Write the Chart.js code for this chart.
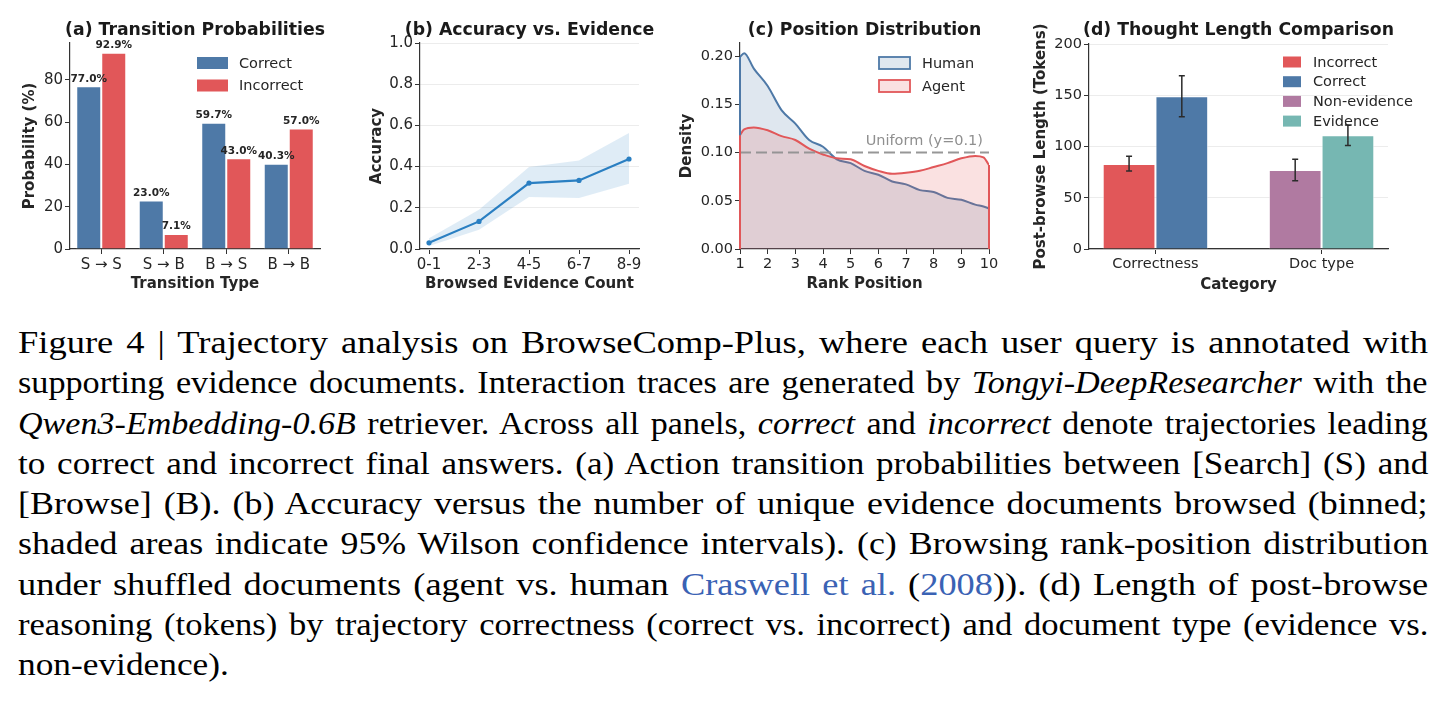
<!DOCTYPE html>
<html>
<head>
<meta charset="utf-8">
<script src="https://cdn.jsdelivr.net/npm/chart.js@4.4.1/dist/chart.umd.min.js"></script>
<style>
  html, body { margin: 0; padding: 0; background: #fff; }
  body { width: 1450px; height: 702px; position: relative; overflow: hidden; }
  canvas { position: absolute; top: 0; }
  .caption {
    position: absolute; left: 18px; top: 322px; width: 1410px;
    font-family: 'Liberation Serif', serif; font-size: 32px; line-height: 40.3px; color: #000;
  }
  .caption .line { white-space: nowrap; }
  .caption .line span.t { display: inline-block; transform-origin: 0 50%; }
  .cite { color: #3a62b4; }
</style>
</head>
<body>
<canvas id="chartA" width="340" height="300" style="left:0px"></canvas>
<canvas id="chartB" width="305" height="300" style="left:350px"></canvas>
<canvas id="chartC" width="345" height="300" style="left:660px"></canvas>
<canvas id="chartD" width="440" height="300" style="left:1010px"></canvas>

<div class="caption">
  <div class="line"><span class="t">Figure 4 | Trajectory analysis on BrowseComp-Plus, where each user query is annotated with</span></div>
  <div class="line"><span class="t">supporting evidence documents. Interaction traces are generated by <i>Tongyi-DeepResearcher</i> with the</span></div>
  <div class="line"><span class="t"><i>Qwen3-Embedding-0.6B</i> retriever. Across all panels, <i>correct</i> and <i>incorrect</i> denote trajectories leading</span></div>
  <div class="line"><span class="t">to correct and incorrect final answers. (a) Action transition probabilities between [Search] (S) and</span></div>
  <div class="line"><span class="t">[Browse] (B). (b) Accuracy versus the number of unique evidence documents browsed (binned;</span></div>
  <div class="line"><span class="t">shaded areas indicate 95% Wilson confidence intervals). (c) Browsing rank-position distribution</span></div>
  <div class="line"><span class="t">under shuffled documents (agent vs. human <span class="cite">Craswell et al.</span> (<span class="cite">2008</span>)). (d) Length of post-browse</span></div>
  <div class="line"><span class="t">reasoning (tokens) by trajectory correctness (correct vs. incorrect) and document type (evidence vs.</span></div>
  <div class="line last"><span class="t">non-evidence).</span></div>
</div>

<script>
// (a) transition probabilities
const transitionTypes = ["S → S", "S → B", "B → S", "B → B"];
const transCorrect = [77.0, 23.0, 59.7, 40.3];
const transIncorrect = [92.9, 7.1, 43.0, 57.0];

// (b) accuracy vs. evidence count, with 95% Wilson intervals
const evidenceBins = ["0-1", "2-3", "4-5", "6-7", "8-9"];
const accuracy = [0.03, 0.134, 0.32, 0.333, 0.437];
const accuracyLow = [0.015, 0.094, 0.252, 0.248, 0.317];
const accuracyHigh = [0.052, 0.19, 0.398, 0.43, 0.563];

// (c) rank position density
const rankPositions = [1, 1.15, 1.5, 2, 2.5, 3, 3.5, 4, 4.5, 5, 5.5, 6, 6.5, 7, 7.5, 8, 8.5, 9, 9.5, 9.8, 10];
const humanDensity = [0.199, 0.203, 0.187, 0.169, 0.144, 0.130, 0.113, 0.106, 0.093, 0.089, 0.081, 0.077, 0.070, 0.067, 0.061, 0.059, 0.053, 0.051, 0.046, 0.044, 0.042];
const agentDensity = [0.118, 0.124, 0.126, 0.123, 0.117, 0.113, 0.104, 0.098, 0.094, 0.093, 0.086, 0.081, 0.078, 0.079, 0.081, 0.085, 0.089, 0.094, 0.0965, 0.095, 0.087];
const uniformDensity = 0.1;

// (d) post-browse thought length
const lengthCategories = ["Correctness", "Doc type"];
const lengthLeftLabels = ["Incorrect", "Non-evidence"];
const lengthLeft = [83, 77];
const lengthLeftLow = [76, 66.5];
const lengthLeftHigh = [90.5, 87.5];
const lengthRightLabels = ["Correct", "Evidence"];
const lengthRight = [149, 111];
const lengthRightLow = [129, 101];
const lengthRightHigh = [169, 121];

const BLUE = "#4e79a7";
const RED = "#e15759";
const PURPLE = "#b07aa1";
const TEAL = "#76b7b2";
const LINE_BLUE = "#2a7fc2";
const AXIS = "#333333";
const TEXT = "#262626";
const FONT = "'DejaVu Sans', sans-serif";

Chart.defaults.font.family = FONT;
Chart.defaults.color = TEXT;
Chart.defaults.animation = false;
Chart.defaults.plugins.legend.display = false;
Chart.defaults.plugins.tooltip.enabled = false;
Chart.defaults.plugins.title.display = false;

// panel title centred over the plot area (drawn without a width limit)
function panelTitle(text) {
  return {
    id: "panelTitle",
    afterDraw(chart) {
      const ctx = chart.ctx;
      const area = chart.chartArea;
      ctx.save();
      ctx.font = "bold 17.3px " + FONT;
      ctx.fillStyle = "#1a1a1a";
      ctx.textAlign = "center";
      ctx.textBaseline = "middle";
      ctx.fillText(text, (area.left + area.right) / 2, 31);
      ctx.restore();
    },
  };
}

function axisTitle(text, padding) {
  return {
    display: true,
    text: text,
    color: TEXT,
    font: { family: FONT, size: 15, weight: "bold", lineHeight: 1.2 },
    padding: padding,
  };
}

function gridOpts(showLines) {
  return {
    drawOnChartArea: showLines,
    color: "#ececec",
    lineWidth: 1,
    tickLength: 5,
    tickColor: AXIS,
    tickWidth: 1,
    offset: false,
  };
}

const border = { color: AXIS, width: 1.2 };

// small legend drawn at fixed spots inside each panel
function makeLegend(cfg) {
  return {
    id: "boxLegend",
    afterDraw(chart) {
      const ctx = chart.ctx;
      ctx.save();
      ctx.font = "14.5px " + FONT;
      ctx.textBaseline = "middle";
      cfg.items.forEach(function (it, i) {
        const cy = cfg.y + i * cfg.step;
        ctx.fillStyle = it.fill;
        ctx.fillRect(cfg.x, cy - cfg.boxH / 2, cfg.boxW, cfg.boxH);
        if (it.stroke) {
          ctx.strokeStyle = it.stroke;
          ctx.lineWidth = 1.8;
          ctx.strokeRect(cfg.x, cy - cfg.boxH / 2, cfg.boxW, cfg.boxH);
        }
        ctx.fillStyle = TEXT;
        ctx.fillText(it.text, cfg.textX, cy + 1);
      });
      ctx.restore();
    },
  };
}

const barValueLabels = {
  id: "barValueLabels",
  afterDatasetsDraw(chart) {
    const ctx = chart.ctx;
    ctx.save();
    ctx.font = "bold 10.5px " + FONT;
    ctx.fillStyle = TEXT;
    ctx.textAlign = "center";
    ctx.textBaseline = "bottom";
    chart.data.datasets.forEach(function (ds, di) {
      chart.getDatasetMeta(di).data.forEach(function (bar, i) {
        ctx.fillText(ds.data[i].toFixed(1) + "%", bar.x, bar.y - 2);
      });
    });
    ctx.restore();
  },
};

// ---------- (a) ----------
new Chart(document.getElementById("chartA"), {
  type: "bar",
  data: {
    labels: transitionTypes,
    datasets: [
      { label: "Correct", data: transCorrect, backgroundColor: BLUE, borderColor: "rgba(255,255,255,0.6)", borderWidth: 1 },
      { label: "Incorrect", data: transIncorrect, backgroundColor: RED, borderColor: "rgba(255,255,255,0.6)", borderWidth: 1 },
    ],
  },
  options: {
    responsive: false,
    devicePixelRatio: 1,
    layout: { padding: { top: 43, right: 20 } },
    datasets: { bar: { categoryPercentage: 0.8, barPercentage: 1 } },
    scales: {
      x: {
        grid: gridOpts(false),
        border: border,
        ticks: { font: { size: 15 }, padding: 2, maxRotation: 0, color: TEXT },
        title: axisTitle("Transition Type", { top: 0, bottom: 6.5 }),
        afterFit: function (s) { s.height = 51; },
      },
      y: {
        min: 0,
        max: 97.5,
        grid: gridOpts(false),
        border: border,
        ticks: { stepSize: 20, includeBounds: false, font: { size: 15 }, padding: 2, color: TEXT },
        title: axisTitle("Probability (%)", { top: 21, bottom: 0 }),
        afterFit: function (s) { s.width = 70; },
      },
    },
  },
  plugins: [
    panelTitle("(a) Transition Probabilities"),
    barValueLabels,
    makeLegend({
      x: 197, y: 63, step: 22.5, boxW: 31, boxH: 12, textX: 239,
      items: [
        { text: "Correct", fill: BLUE },
        { text: "Incorrect", fill: RED },
      ],
    }),
  ],
});

// ---------- (b) ----------
function pts(xs, ys) {
  return ys.map(function (v, i) { return { x: xs[i], y: v }; });
}
const binIdx = evidenceBins.map(function (_, i) { return i; });

new Chart(document.getElementById("chartB"), {
  type: "line",
  data: {
    datasets: [
      {
        label: "Accuracy",
        data: pts(binIdx, accuracy),
        borderColor: LINE_BLUE,
        borderWidth: 2.2,
        pointRadius: 2.6,
        pointBackgroundColor: LINE_BLUE,
        pointBorderWidth: 0,
        fill: false,
      },
      {
        label: "CI high",
        data: pts(binIdx, accuracyHigh),
        borderWidth: 0,
        pointRadius: 0,
        backgroundColor: "rgba(42,127,194,0.15)",
        fill: 2,
      },
      {
        label: "CI low",
        data: pts(binIdx, accuracyLow),
        borderWidth: 0,
        pointRadius: 0,
        fill: false,
      },
    ],
  },
  options: {
    responsive: false,
    devicePixelRatio: 1,
    layout: { padding: { top: 43, right: 16 } },
    scales: {
      x: {
        type: "linear",
        min: -0.18,
        max: 4.2,
        grid: gridOpts(false),
        border: border,
        ticks: {
          stepSize: 1,
          includeBounds: false,
          font: { size: 15 },
          padding: 2,
          maxRotation: 0,
          color: TEXT,
          callback: function (v) { return evidenceBins[v] !== undefined ? evidenceBins[v] : ""; },
        },
        title: axisTitle("Browsed Evidence Count", { top: 0, bottom: 6.5 }),
        afterFit: function (s) { s.height = 51; },
      },
      y: {
        min: 0,
        max: 1,
        grid: gridOpts(true),
        border: border,
        ticks: {
          stepSize: 0.2,
          font: { size: 15 },
          padding: 2,
          color: TEXT,
          callback: function (v) { return v.toFixed(1); },
        },
        title: axisTitle("Accuracy", { top: 18, bottom: 0 }),
        afterFit: function (s) { s.width = 70; },
      },
    },
  },
  plugins: [panelTitle("(b) Accuracy vs. Evidence")],
});

// ---------- (c) ----------
const kdeEdges = {
  id: "kdeEdges",
  afterDatasetsDraw(chart) {
    const ctx = chart.ctx;
    const y0 = chart.scales.y.getPixelForValue(0);
    ctx.save();
    ctx.lineWidth = 2;
    [1, 0].forEach(function (di) {
      const meta = chart.getDatasetMeta(di);
      const ds = chart.data.datasets[di];
      const first = meta.data[0];
      const last = meta.data[meta.data.length - 1];
      ctx.strokeStyle = ds.borderColor;
      ctx.beginPath();
      ctx.moveTo(first.x, first.y);
      ctx.lineTo(first.x, y0);
      ctx.moveTo(last.x, last.y);
      ctx.lineTo(last.x, y0);
      ctx.stroke();
    });
    // uniform label
    ctx.font = "14.5px " + FONT;
    ctx.fillStyle = "#8f8f8f";
    ctx.textAlign = "right";
    ctx.textBaseline = "alphabetic";
    ctx.fillText("Uniform (y=" + uniformDensity + ")", chart.chartArea.right - 6,
      chart.scales.y.getPixelForValue(uniformDensity) - 8);
    ctx.restore();
  },
};

new Chart(document.getElementById("chartC"), {
  type: "line",
  data: {
    datasets: [
      {
        label: "Agent",
        data: pts(rankPositions, agentDensity),
        borderColor: RED,
        borderWidth: 2,
        backgroundColor: "rgba(225,87,89,0.18)",
        pointRadius: 0,
        fill: "origin",
        cubicInterpolationMode: "monotone",
      },
      {
        label: "Human",
        data: pts(rankPositions, humanDensity),
        borderColor: BLUE,
        borderWidth: 2,
        backgroundColor: "rgba(78,121,167,0.18)",
        pointRadius: 0,
        fill: "origin",
        cubicInterpolationMode: "monotone",
      },
      {
        label: "Uniform",
        data: [
          { x: rankPositions[0], y: uniformDensity },
          { x: rankPositions[rankPositions.length - 1], y: uniformDensity },
        ],
        borderColor: "rgba(145,145,145,0.95)",
        borderWidth: 2.2,
        borderDash: [11, 5],
        pointRadius: 0,
        fill: false,
        order: -1,
      },
    ],
  },
  options: {
    responsive: false,
    devicePixelRatio: 1,
    layout: { padding: { top: 43, right: 16 } },
    scales: {
      x: {
        type: "linear",
        min: 1,
        max: 10,
        grid: gridOpts(false),
        border: border,
        ticks: { stepSize: 1, font: { size: 14.5 }, padding: 2, maxRotation: 0, color: TEXT },
        title: axisTitle("Rank Position", { top: 0, bottom: 6.5 }),
        afterFit: function (s) { s.height = 51; },
      },
      y: {
        min: 0,
        max: 0.2135,
        grid: gridOpts(false),
        border: border,
        ticks: {
          stepSize: 0.05,
          includeBounds: false,
          font: { size: 14.5 },
          padding: 2,
          color: TEXT,
          callback: function (v) { return v.toFixed(2); },
        },
        title: axisTitle("Density", { top: 18, bottom: 0 }),
        afterFit: function (s) { s.width = 80; },
      },
    },
  },
  plugins: [
    panelTitle("(c) Position Distribution"),
    kdeEdges,
    makeLegend({
      x: 219, y: 63, step: 23, boxW: 31, boxH: 12, textX: 262,
      items: [
        { text: "Human", fill: "rgba(78,121,167,0.18)", stroke: BLUE },
        { text: "Agent", fill: "rgba(225,87,89,0.18)", stroke: RED },
      ],
    }),
  ],
});

// ---------- (d) ----------
const lengthLow = [lengthLeftLow, lengthRightLow];
const lengthHigh = [lengthLeftHigh, lengthRightHigh];

const errorBars = {
  id: "errorBars",
  afterDatasetsDraw(chart) {
    const ctx = chart.ctx;
    const y = chart.scales.y;
    ctx.save();
    ctx.strokeStyle = "#2b2b2b";
    ctx.lineWidth = 1.5;
    [0, 1].forEach(function (di) {
      chart.getDatasetMeta(di).data.forEach(function (bar, i) {
        const yl = y.getPixelForValue(lengthLow[di][i]);
        const yh = y.getPixelForValue(lengthHigh[di][i]);
        ctx.beginPath();
        ctx.moveTo(bar.x, yl);
        ctx.lineTo(bar.x, yh);
        ctx.moveTo(bar.x - 3, yl);
        ctx.lineTo(bar.x + 3, yl);
        ctx.moveTo(bar.x - 3, yh);
        ctx.lineTo(bar.x + 3, yh);
        ctx.stroke();
      });
    });
    ctx.restore();
  },
};

// the long y title would be squeezed to the axis height by Chart.js, so draw it here
const lengthYTitle = {
  id: "lengthYTitle",
  afterDraw(chart) {
    const ctx = chart.ctx;
    const area = chart.chartArea;
    ctx.save();
    ctx.translate(31, (area.top + area.bottom) / 2);
    ctx.rotate(-Math.PI / 2);
    ctx.font = "bold 15px " + FONT;
    ctx.fillStyle = TEXT;
    ctx.textAlign = "center";
    ctx.textBaseline = "middle";
    ctx.fillText("Post-browse Length (Tokens)", 0, 0);
    ctx.restore();
  },
};

const catIdx = lengthCategories.map(function (_, i) { return i; });

new Chart(document.getElementById("chartD"), {
  type: "bar",
  data: {
    datasets: [
      {
        label: "left",
        data: pts(catIdx, lengthLeft),
        backgroundColor: [RED, PURPLE],
        borderColor: "rgba(255,255,255,0.6)",
        borderWidth: 1,
      },
      {
        label: "right",
        data: pts(catIdx, lengthRight),
        backgroundColor: [BLUE, TEAL],
        borderColor: "rgba(255,255,255,0.6)",
        borderWidth: 1,
      },
    ],
  },
  options: {
    responsive: false,
    devicePixelRatio: 1,
    layout: { padding: { top: 44, right: 62 } },
    datasets: { bar: { categoryPercentage: 0.635, barPercentage: 1 } },
    scales: {
      x: {
        type: "linear",
        min: -0.4,
        max: 1.4,
        offset: false,
        grid: gridOpts(false),
        border: border,
        ticks: {
          stepSize: 1,
          includeBounds: false,
          font: { size: 14.5 },
          padding: 2,
          maxRotation: 0,
          color: TEXT,
          callback: function (v) { return lengthCategories[v] !== undefined ? lengthCategories[v] : ""; },
        },
        title: axisTitle("Category", { top: 0, bottom: 6 }),
        afterFit: function (s) { s.height = 51; },
      },
      y: {
        min: 0,
        max: 200,
        grid: gridOpts(true),
        border: border,
        ticks: { stepSize: 50, font: { size: 14.5 }, padding: 2, color: TEXT },
        afterFit: function (s) { s.width = 79; },
      },
    },
  },
  plugins: [
    panelTitle("(d) Thought Length Comparison"),
    lengthYTitle,
    errorBars,
    makeLegend({
      x: 273, y: 62, step: 19.7, boxW: 18, boxH: 11, textX: 303,
      items: [
        { text: lengthLeftLabels[0], fill: RED },
        { text: lengthRightLabels[0], fill: BLUE },
        { text: lengthLeftLabels[1], fill: PURPLE },
        { text: lengthRightLabels[1], fill: TEAL },
      ],
    }),
  ],
});

// widen the serif glyphs per line (the original face is broader) and justify to the column
const COLUMN = 1410;
const MAX_STRETCH = 1.14;
const GAP_EXTRA = 3; // visible extra px per word gap left for justification
let stretchSum = 0;
let stretchCount = 0;
document.querySelectorAll(".caption .line").forEach(function (line) {
  if (line.classList.contains("last")) return;
  const span = line.querySelector("span.t");
  const natural = span.offsetWidth;
  const spaces = (span.textContent.match(/ /g) || []).length;
  const s = Math.min(MAX_STRETCH, (COLUMN - spaces * GAP_EXTRA) / natural);
  span.style.transform = "scaleX(" + s + ")";
  span.style.wordSpacing = (COLUMN / s - natural) / spaces + "px";
  stretchSum += s;
  stretchCount += 1;
});
document.querySelectorAll(".caption .line.last span.t").forEach(function (span) {
  span.style.transform = "scaleX(" + stretchSum / stretchCount + ")";
});
</script>
</body>
</html>
